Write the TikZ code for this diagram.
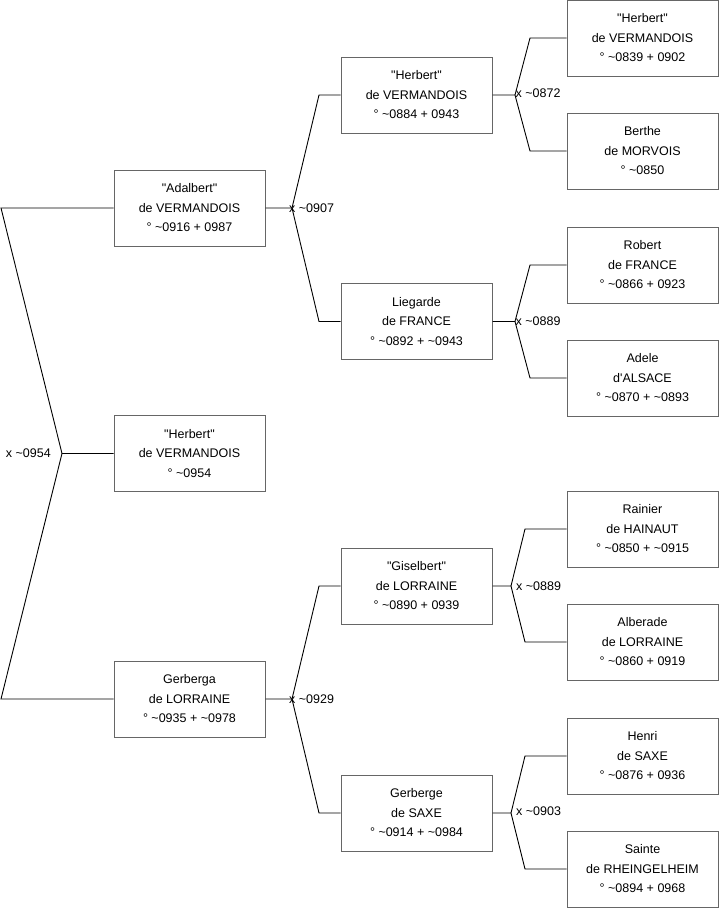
\documentclass[tikz,border=0pt]{standalone}
\usepackage{fontspec}
\setmainfont{Liberation Sans}[Ligatures=TeXOff]
\usetikzlibrary{positioning,calc}
\tikzset{
  person/.style={draw=black!60,line width=1pt,fill=white,minimum width=151pt,minimum height=76pt,
    inner sep=0pt,align=center,font=\fontsize{12.5}{19.5}\selectfont},
  link/.style={line width=0.9pt},
  marriage/.style={inner sep=0pt,font=\fontsize{12.5}{14}\selectfont}
}

\begin{document}
\begin{tikzpicture}[x=1pt,y=-1pt]
  \useasboundingbox (0,0) rectangle (719,908);
  % generation 1
  \node[person] (adalbert) at (189.5,208) {"Adalbert"\\de VERMANDOIS\\° \textasciitilde0916 + 0987};
  \node[person] (herbert) at (189.5,453.5) {"Herbert"\\de VERMANDOIS\\° \textasciitilde0954};
  \node[person] (gerberga) at (189.5,699) {Gerberga\\de LORRAINE\\° \textasciitilde0935 + \textasciitilde0978};
  % generation 2
  \node[person] (herbertII) at (416.5,95) {"Herbert"\\de VERMANDOIS\\° \textasciitilde0884 + 0943};
  \node[person] (liegarde) at (416.5,321.5) {Liegarde\\de FRANCE\\° \textasciitilde0892 + \textasciitilde0943};
  \node[person] (giselbert) at (416.5,586) {"Giselbert"\\de LORRAINE\\° \textasciitilde0890 + 0939};
  \node[person] (gerberge) at (416.5,813) {Gerberge\\de SAXE\\° \textasciitilde0914 + \textasciitilde0984};
  % generation 3
  \node[person] (herbertI) at (642.5,38) {"Herbert"\\de VERMANDOIS\\° \textasciitilde0839 + 0902};
  \node[person] (berthe) at (642.5,151) {Berthe\\de MORVOIS\\° \textasciitilde0850};
  \node[person] (robert) at (642.5,265) {Robert\\de FRANCE\\° \textasciitilde0866 + 0923};
  \node[person] (adele) at (642.5,378) {Adele\\d'ALSACE\\° \textasciitilde0870 + \textasciitilde0893};
  \node[person] (rainier) at (642.5,529) {Rainier\\de HAINAUT\\° \textasciitilde0850 + \textasciitilde0915};
  \node[person] (alberade) at (642.5,642) {Alberade\\de LORRAINE\\° \textasciitilde0860 + 0919};
  \node[person] (henri) at (642.5,756) {Henri\\de SAXE\\° \textasciitilde0876 + 0936};
  \node[person] (sainte) at (642.5,869) {Sainte\\de RHEINGELHEIM\\° \textasciitilde0894 + 0968};

  % marriage points
  \coordinate (m0954) at (62,453.5);
  \coordinate (m0907) at (292,208);
  \coordinate (m0929) at (292,699);
  \coordinate (m0872) at (515,95);
  \coordinate (m0889a) at (515,321.5);
  \coordinate (m0889b) at (511,586);
  \coordinate (m0903) at (511,813);

  % connectors
  \draw[link] (herbert.west) -- (m0954) -- (1,208) -- (adalbert.west);
  \draw[link] (m0954) -- (1,699) -- (gerberga.west);
  \draw[link] (adalbert.east) -- (m0907) -- (319,95) -- (herbertII.west);
  \draw[link] (m0907) -- (319,321.5) -- (liegarde.west);
  \draw[link] (gerberga.east) -- (m0929) -- (319,586) -- (giselbert.west);
  \draw[link] (m0929) -- (319,813) -- (gerberge.west);
  \draw[link] (herbertII.east) -- (m0872) -- (530,38) -- (herbertI.west);
  \draw[link] (m0872) -- (530,151) -- (berthe.west);
  \draw[link] (liegarde.east) -- (m0889a) -- (530,265) -- (robert.west);
  \draw[link] (m0889a) -- (530,378) -- (adele.west);
  \draw[link] (giselbert.east) -- (m0889b) -- (525,529) -- (rainier.west);
  \draw[link] (m0889b) -- (525,642) -- (alberade.west);
  \draw[link] (gerberge.east) -- (m0903) -- (525,756) -- (henri.west);
  \draw[link] (m0903) -- (525,869) -- (sainte.west);

  \node[marriage,anchor=east] (l0954) at (51,453.5) {x \textasciitilde0954};
  \node[marriage,anchor=west] (l0907) at (289,208) {x \textasciitilde0907};
  \node[marriage,anchor=west] (l0929) at (289,699) {x \textasciitilde0929};
  \node[marriage,anchor=west] (l0872) at (515.5,93) {x \textasciitilde0872};
  \node[marriage,anchor=west] (l0889a) at (515.5,321) {x \textasciitilde0889};
  \node[marriage,anchor=west] (l0889b) at (516,586) {x \textasciitilde0889};
  \node[marriage,anchor=west] (l0903) at (516,811) {x \textasciitilde0903};
\end{tikzpicture}
\end{document}
